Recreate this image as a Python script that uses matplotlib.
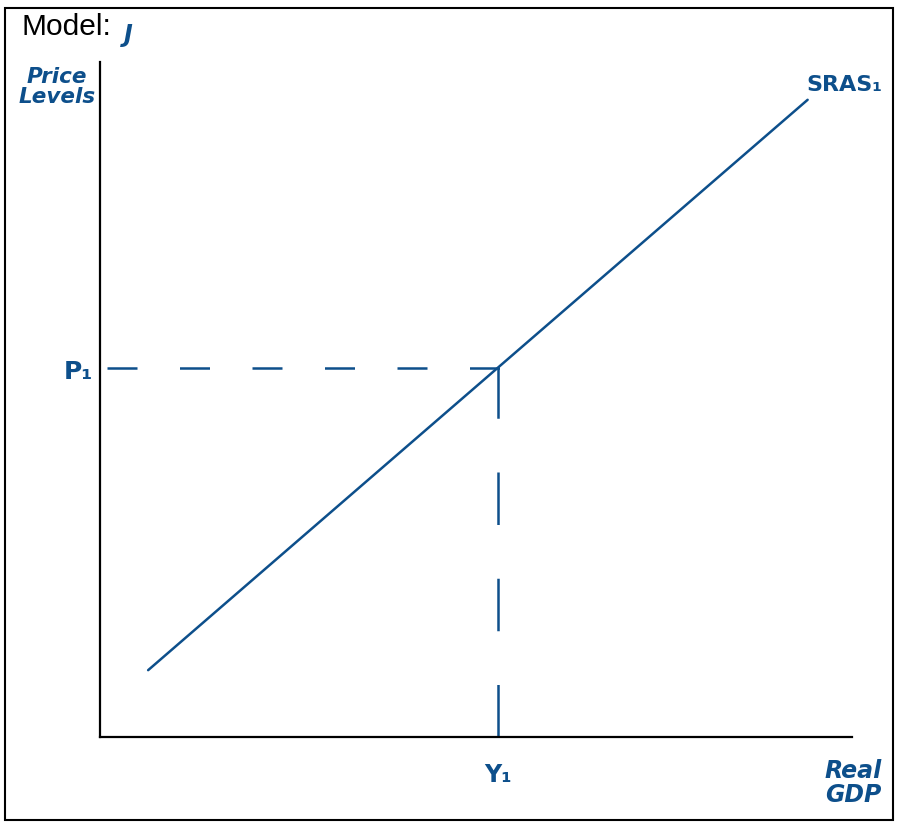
"""
SRAS diagram: price level vs real GDP with the equilibrium point marked.
"""

import matplotlib
matplotlib.use('Agg')
import matplotlib.pyplot as plt
from matplotlib.patches import Rectangle

# Data (axis units 0..10 on both axes)
sras_x = [0.64, 9.41]
sras_y = [0.99, 9.44]
y1 = 5.29   # real GDP at equilibrium
p1 = 5.47   # price level at equilibrium

model_name = 'J'
x_label = 'Real\nGDP'
y_label = 'Price\nLevels'
curve_label = 'SRAS₁'
p_label = 'P₁'
y_tick_label = 'Y₁'

W, H = 901, 832
ink = '#0d4f8b'


def px(x, y):
    """Pixel position (top-left origin) -> figure fraction."""
    return x / W, 1 - y / H


fig = plt.figure(figsize=(W / 100, H / 100), dpi=100)
fig.patch.set_facecolor('white')

# outer frame
fig.patches.append(Rectangle(px(5, 820), 888 / W, 812 / H, transform=fig.transFigure,
                             fill=False, edgecolor='black', linewidth=1.5))

left, bottom = px(100, 737)
ax = fig.add_axes([left, bottom, 752 / W, 675 / H])
ax.set_xlim(0, 10)
ax.set_ylim(0, 10)
ax.set_xticks([])
ax.set_yticks([])
for side in ['top', 'right']:
    ax.spines[side].set_visible(False)
for side in ['left', 'bottom']:
    ax.spines[side].set_linewidth(1.6)
    ax.spines[side].set_color('black')
ax.patch.set_alpha(0)

# SRAS curve
ax.plot(sras_x, sras_y, color=ink, linewidth=1.8, solid_capstyle='round')

# dashed guides to the axes
ax.plot([0.09, y1 + 0.09], [p1, p1], color=ink, linewidth=1.8,
        linestyle=(0, (12, 17)), clip_on=False)
ax.plot([y1, y1], [0, p1], color=ink, linewidth=1.8,
        linestyle=(0, (21, 21.5)), clip_on=False)

# texts
hand = dict(color=ink, fontweight='bold', family='DejaVu Sans')
fig.text(*px(22, 27), 'Model:', fontsize=21.5, family='Liberation Sans',
         va='center', ha='left', color='black')
fig.text(*px(128, 35), model_name, fontsize=17, va='center', ha='center',
         fontstyle='italic', **hand)
fig.text(*px(57, 87), y_label, fontsize=15.5, va='center', ha='center',
         linespacing=1.05, fontstyle='italic', **hand)
fig.text(*px(78, 372), p_label, fontsize=18, va='center', ha='center', **hand)
fig.text(*px(498, 775), y_tick_label, fontsize=17, va='center', ha='center', **hand)
fig.text(*px(844, 85), curve_label, fontsize=16, va='center', ha='center', **hand)
fig.text(*px(853, 783), x_label, fontsize=17, va='center', ha='center',
         linespacing=1.05, fontstyle='italic', **hand)

plt.savefig('out.png', dpi=100)
